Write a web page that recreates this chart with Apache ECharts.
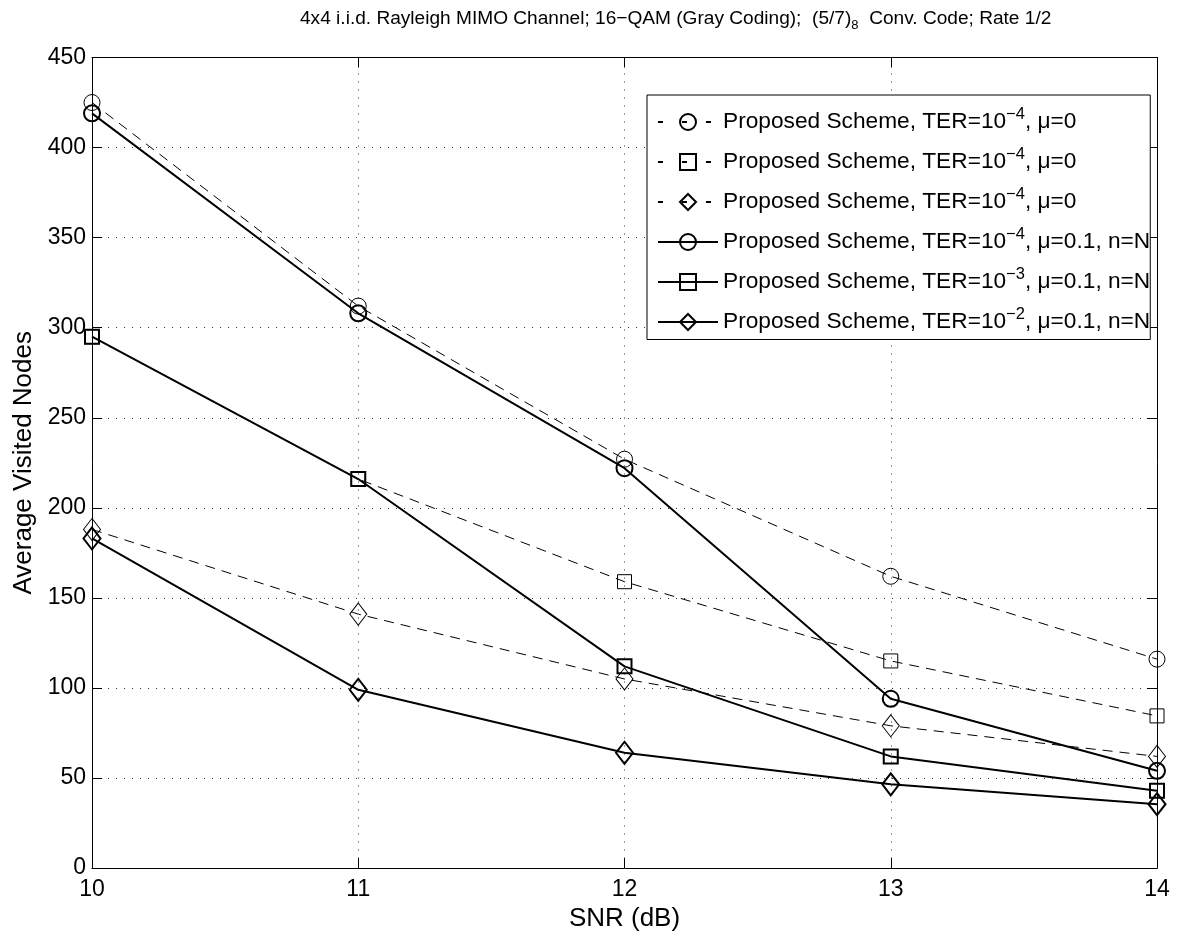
<!DOCTYPE html>
<html>
<head>
<meta charset="utf-8">
<script src="https://cdn.jsdelivr.net/npm/echarts@6/dist/echarts.min.js"></script>
<style>
html,body{margin:0;padding:0;background:#fff;}
#c{width:1186px;height:937px;}
</style>
</head>
<body>
<div id="c"></div>
<script>
const snr = [10, 11, 12, 13, 14];
const ter4Mu0Circle = [425, 312, 227, 162, 116];
const ter4Mu0Square = [295, 216, 159, 115, 84.5];
const ter4Mu0Diamond = [188, 141, 105, 79, 62];
const ter4Mu01 = [419, 308, 222, 94, 54];
const ter3Mu01 = [295, 216, 112, 62, 43];
const ter2Mu01 = [183, 99, 64, 46.5, 35.5];

const legendLabels = {
  s1: '{t|Proposed Scheme, TER=10}{sup|−4}{t|, μ=0}',
  s2: '{t|Proposed Scheme, TER=10}{sup|−4}{t|, μ=0}',
  s3: '{t|Proposed Scheme, TER=10}{sup|−4}{t|, μ=0}',
  s4: '{t|Proposed Scheme, TER=10}{sup|−4}{t|, μ=0.1, n=N}',
  s5: '{t|Proposed Scheme, TER=10}{sup|−3}{t|, μ=0.1, n=N}',
  s6: '{t|Proposed Scheme, TER=10}{sup|−2}{t|, μ=0.1, n=N}'
};
const titleText = '{t|4x4 i.i.d. Rayleigh MIMO Channel; 16−QAM (Gray Coding);  (5/7)}{sub|8}{t|  Conv. Code; Rate 1/2}';

const FONT = '"Liberation Sans", Arial, Helvetica, sans-serif';

function pts(vals) { return snr.map((x, i) => [x, vals[i]]); }

function dashed(name, vals, symbol, size) {
  return {
    name: name, type: 'line', data: pts(vals), symbol: symbol, symbolSize: size,
    lineStyle: {color: '#000', width: 1, type: [10, 7]},
    itemStyle: {color: 'transparent', borderColor: '#000', borderWidth: 1},
    emphasis: {disabled: true}, z: 2
  };
}
function solid(name, vals, symbol, size) {
  return {
    name: name, type: 'line', data: pts(vals), symbol: symbol, symbolSize: size,
    lineStyle: {color: '#000', width: 2, type: 'solid'},
    itemStyle: {color: 'transparent', borderColor: '#000', borderWidth: 2},
    emphasis: {disabled: true}, z: 3
  };
}

const chart = echarts.init(document.getElementById('c'), null, {renderer: 'canvas'});
const grid = {left: 92, right: 29, top: 57.5, bottom: 66, containLabel: false};
const splitLine = {show: true, lineStyle: {color: '#333', width: 1, type: [1, 7]}};

chart.setOption({
  animation: false,
  backgroundColor: '#fff',
  textStyle: {fontFamily: FONT, color: '#000'},
  title: {
    text: titleText, left: 300, top: 6, padding: 0,
    textStyle: {
      fontWeight: 'normal',
      rich: {
        t: {fontFamily: FONT, fontSize: 19.1, fontWeight: 'normal', color: '#000', lineHeight: 26},
        sub: {fontFamily: FONT, fontSize: 13, fontWeight: 'normal', color: '#000', lineHeight: 13, verticalAlign: 'bottom'}
      }
    }
  },
  grid: grid,
  legend: {
    orient: 'vertical', left: 647, top: 95,
    padding: [11, 0, 6, 10],
    itemWidth: 60, itemHeight: 20, itemGap: 12.5, itemTextGap: 6,
    backgroundColor: '#fff', borderColor: '#000', borderWidth: 1,
    selectedMode: false,
    data: [
      {name: 's1', lineStyle: {type: [5, 19]}},
      {name: 's2', lineStyle: {type: [5, 19]}},
      {name: 's3', lineStyle: {type: [5, 19]}},
      {name: 's4'}, {name: 's5'}, {name: 's6'}
    ],
    formatter: function (n) { return legendLabels[n]; },
    textStyle: {
      rich: {
        t: {fontFamily: FONT, fontSize: 22.7, color: '#000', lineHeight: 32},
        sup: {fontFamily: FONT, fontSize: 16.5, color: '#000', lineHeight: 17, verticalAlign: 'top'}
      }
    }
  },
  xAxis: [{
    type: 'value', min: 10, max: 14, interval: 1, position: 'bottom',
    name: 'SNR (dB)', nameLocation: 'middle', nameGap: 30,
    nameTextStyle: {fontFamily: FONT, fontSize: 26, color: '#000'},
    axisLine: {show: true, onZero: false, lineStyle: {color: '#000', width: 1}},
    axisTick: {show: true, inside: true, length: 10, lineStyle: {color: '#000'}},
    axisLabel: {fontFamily: FONT, fontSize: 23, color: '#000', margin: 10},
    splitLine: splitLine
  }, {
    type: 'value', min: 10, max: 14, interval: 1, position: 'top',
    axisLine: {show: true, onZero: false, lineStyle: {color: '#000', width: 1}},
    axisTick: {show: true, inside: true, length: 10, lineStyle: {color: '#000'}},
    axisLabel: {show: false}, splitLine: {show: false}
  }],
  yAxis: [{
    type: 'value', min: 0, max: 450, interval: 50, position: 'left',
    name: 'Average Visited Nodes', nameLocation: 'middle', nameGap: 52,
    nameTextStyle: {fontFamily: FONT, fontSize: 26, color: '#000'},
    axisLine: {show: true, onZero: false, lineStyle: {color: '#000', width: 1}},
    axisTick: {show: true, inside: true, length: 10, lineStyle: {color: '#000'}},
    axisLabel: {fontFamily: FONT, fontSize: 23, color: '#000', margin: 6},
    splitLine: splitLine
  }, {
    type: 'value', min: 0, max: 450, interval: 50, position: 'right',
    axisLine: {show: true, onZero: false, lineStyle: {color: '#000', width: 1}},
    axisTick: {show: true, inside: true, length: 10, lineStyle: {color: '#000'}},
    axisLabel: {show: false}, splitLine: {show: false}
  }],
  series: [
    dashed('s1', ter4Mu0Circle, 'circle', 16),
    dashed('s2', ter4Mu0Square, 'rect', 14),
    dashed('s3', ter4Mu0Diamond, 'diamond', [17, 22]),
    solid('s4', ter4Mu01, 'circle', 16),
    solid('s5', ter3Mu01, 'rect', 14),
    solid('s6', ter2Mu01, 'diamond', [17, 22])
  ]
});
</script>
</body>
</html>
